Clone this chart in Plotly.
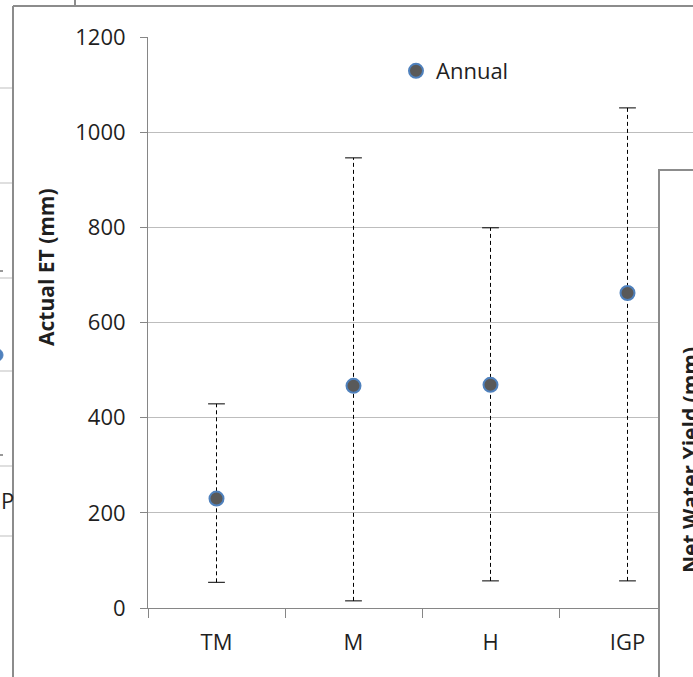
import plotly.graph_objects as go

# ---- data ----
categories = ["TM", "M", "H", "IGP"]
annual_et = [230, 467, 469, 662]
et_min = [54, 15, 57, 57]
et_max = [429, 946, 799, 1051]
y_ticks = [0, 200, 400, 600, 800, 1000, 1200]

W, H = 693, 677
L, R, T, B = 148, 0, 37, 69
PW = W - L - R
PH = H - T - B

def px(x):
    return (x - L) / PW

def py(y):
    return (H - B - y) / PH

FONT = "Open Sans"
TXT = "#1f1f1f"

fig = go.Figure()

# dashed min-max range lines
ex, ey = [], []
for c, lo, hi in zip(categories, et_min, et_max):
    ex += [c, c, None]
    ey += [lo, hi, None]
fig.add_trace(go.Scatter(x=ex, y=ey, mode="lines", showlegend=False, hoverinfo="skip",
                         line=dict(color="black", width=1, dash="4px,3px")))
# caps
cx, cy = [], []
for c, lo, hi in zip(categories, et_min, et_max):
    cx += [c, c]
    cy += [lo, hi]
fig.add_trace(go.Scatter(x=cx, y=cy, mode="markers", showlegend=False, hoverinfo="skip",
                         marker=dict(symbol="line-ew", size=12, color="black",
                                     line=dict(color="black", width=1))))
# annual points
fig.add_trace(go.Scatter(x=categories, y=annual_et, mode="markers", name="Annual",
                         marker=dict(size=14, color="#595959",
                                     line=dict(color="#4F81BD", width=2))))

shapes = []
# main chart border (left / top)
shapes.append(dict(type="line", xref="paper", yref="paper", x0=px(13), x1=px(13), y0=py(6), y1=py(700),
                   line=dict(color="#8c8c8c", width=2)))
shapes.append(dict(type="line", xref="paper", yref="paper", x0=px(13), x1=px(700), y0=py(6), y1=py(6),
                   line=dict(color="#8c8c8c", width=2)))
shapes.append(dict(type="line", xref="paper", yref="paper", x0=px(75), x1=px(75), y0=py(-2), y1=py(6),
                   line=dict(color="#8c8c8c", width=2)))
# left neighbour chart fragments
for yy in [88, 183, 278, 371, 466, 536]:
    shapes.append(dict(type="line", xref="paper", yref="paper", x0=px(-2), x1=px(12), y0=py(yy), y1=py(yy),
                       line=dict(color="#bfbfbf", width=1)))
for yy in [271, 455]:
    shapes.append(dict(type="line", xref="paper", yref="paper", x0=px(-2), x1=px(3), y0=py(yy), y1=py(yy),
                       line=dict(color="#333333", width=1)))
shapes.append(dict(type="circle", xref="paper", yref="paper", x0=px(-8), x1=px(3), y0=py(349), y1=py(361),
                   fillcolor="#4F81BD", line=dict(color="#4F81BD", width=1)))
# right neighbour chart box
shapes.append(dict(type="rect", xref="paper", yref="paper", x0=px(659), x1=px(710), y0=py(170), y1=py(700),
                   fillcolor="white", line=dict(color="#8c8c8c", width=2), layer="above"))

annotations = [
    dict(text="<b>Actual ET (mm)</b>", xref="paper", yref="paper", x=px(46), y=py(267),
         textangle=-90, showarrow=False, font=dict(family=FONT, size=21, color=TXT),
         xanchor="center", yanchor="middle"),
    dict(text="<b>Net Water Yield (mm)</b>", xref="paper", yref="paper", x=px(690), y=py(460),
         textangle=-90, showarrow=False, font=dict(family=FONT, size=21, color=TXT),
         xanchor="center", yanchor="middle"),
    dict(text="P", xref="paper", yref="paper", x=px(7), y=py(500), showarrow=False,
         font=dict(family=FONT, size=22, color=TXT), xanchor="center", yanchor="middle"),
]

fig.update_layout(
    width=W, height=H,
    margin=dict(l=L, r=R, t=T, b=B, pad=0),
    paper_bgcolor="white", plot_bgcolor="white",
    font=dict(family=FONT, size=22, color=TXT),
    showlegend=True,
    legend=dict(x=px(396), y=py(71), xanchor="left", yanchor="middle", itemwidth=30,
                bgcolor="rgba(0,0,0,0)", font=dict(family=FONT, size=22, color=TXT)),
    shapes=shapes, annotations=annotations,
    xaxis=dict(type="category", categoryorder="array", categoryarray=categories,
               range=[-0.5, -0.5 + PW / 137.0], showgrid=False, showline=True,
               linecolor="#868686", linewidth=1, ticks="outside", tickson="boundaries",
               ticklen=9, tickcolor="#868686", tickwidth=1, ticklabelstandoff=15,
               tickfont=dict(family=FONT, size=22, color=TXT), zeroline=False),
    yaxis=dict(range=[0, 1200], tickvals=y_ticks, showgrid=True, gridcolor="#bdbdbd", gridwidth=1,
               showline=True, linecolor="#868686", linewidth=1, ticks="outside", ticklen=7,
               tickcolor="#868686", tickwidth=1, ticklabelstandoff=10, zeroline=False,
               tickfont=dict(family=FONT, size=22, color=TXT)),
)

fig.write_html("out.html", config={"displayModeBar": False},
               post_script="document.body.style.margin='0';document.body.style.overflow='hidden';")
